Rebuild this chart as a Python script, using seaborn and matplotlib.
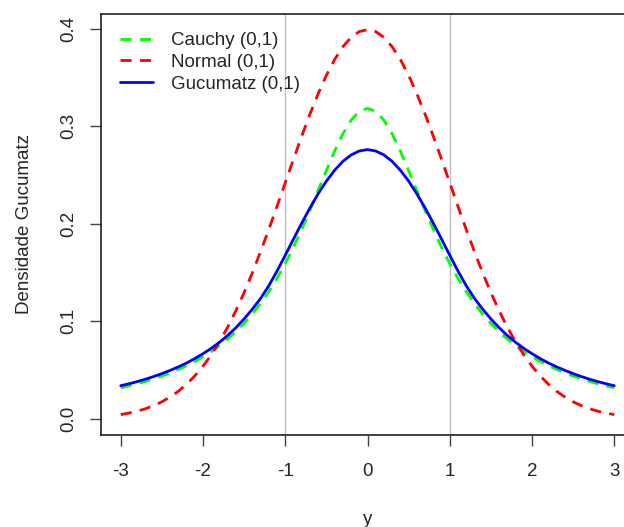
import numpy as np
import pandas as pd
import matplotlib
matplotlib.use("Agg")
import matplotlib.pyplot as plt
import seaborn as sns

# values, y from -3 to 3 in steps of 0.1
y_vals = [round(-3 + 0.1 * i, 1) for i in range(61)]

cauchy = [0.0318, 0.0338, 0.0360, 0.0384, 0.0410, 0.0439, 0.0471, 0.0506, 0.0545, 0.0588,
          0.0637, 0.0690, 0.0751, 0.0818, 0.0894, 0.0979, 0.1075, 0.1183, 0.1305, 0.1440,
          0.1592, 0.1759, 0.1941, 0.2136, 0.2341, 0.2546, 0.2744, 0.2920, 0.3061, 0.3152,
          0.3183,
          0.3152, 0.3061, 0.2920, 0.2744, 0.2546, 0.2341, 0.2136, 0.1941, 0.1759, 0.1592,
          0.1440, 0.1305, 0.1183, 0.1075, 0.0979, 0.0894, 0.0818, 0.0751, 0.0690, 0.0637,
          0.0588, 0.0545, 0.0506, 0.0471, 0.0439, 0.0410, 0.0384, 0.0360, 0.0338, 0.0318]

normal = [0.0044, 0.0060, 0.0079, 0.0104, 0.0136, 0.0175, 0.0224, 0.0283, 0.0355, 0.0440,
          0.0540, 0.0656, 0.0790, 0.0940, 0.1109, 0.1295, 0.1497, 0.1714, 0.1942, 0.2179,
          0.2420, 0.2661, 0.2897, 0.3123, 0.3332, 0.3521, 0.3683, 0.3814, 0.3910, 0.3970,
          0.3989,
          0.3970, 0.3910, 0.3814, 0.3683, 0.3521, 0.3332, 0.3123, 0.2897, 0.2661, 0.2420,
          0.2179, 0.1942, 0.1714, 0.1497, 0.1295, 0.1109, 0.0940, 0.0790, 0.0656, 0.0540,
          0.0440, 0.0355, 0.0283, 0.0224, 0.0175, 0.0136, 0.0104, 0.0079, 0.0060, 0.0044]

gucumatz = [0.0340, 0.0360, 0.0382, 0.0407, 0.0434, 0.0464, 0.0497, 0.0533, 0.0573, 0.0618,
            0.0668, 0.0723, 0.0785, 0.0855, 0.0935, 0.1025, 0.1125, 0.1235, 0.1365, 0.1515,
            0.1677, 0.1843, 0.2006, 0.2162, 0.2307, 0.2437, 0.2548, 0.2639, 0.2705, 0.2746,
            0.2760,
            0.2746, 0.2705, 0.2639, 0.2548, 0.2437, 0.2307, 0.2162, 0.2006, 0.1843, 0.1677,
            0.1515, 0.1365, 0.1235, 0.1125, 0.1025, 0.0935, 0.0855, 0.0785, 0.0723, 0.0668,
            0.0618, 0.0573, 0.0533, 0.0497, 0.0464, 0.0434, 0.0407, 0.0382, 0.0360, 0.0340]

x_ticks = [-3, -2, -1, 0, 1, 2, 3]
y_ticks = [0.0, 0.1, 0.2, 0.3, 0.4]
y_tick_labels = ["0.0", "0.1", "0.2", "0.3", "0.4"]
ref_lines = [-1, 1]

df = pd.DataFrame({"y": y_vals, "cauchy": cauchy, "normal": normal, "gucumatz": gucumatz})

sns.set_style("white")
plt.rcParams["font.family"] = ["Liberation Sans", "DejaVu Sans"]
fs = 13.5

fig = plt.figure(figsize=(6.24, 5.27), dpi=100)
ax = fig.add_axes([101 / 624, (527 - 434.5) / 527, (634 - 101) / 624, (434.5 - 14) / 527])

for v in ref_lines:
    ax.axvline(v, color="#BEBEBE", lw=1, zorder=0)

sns.lineplot(data=df, x="y", y="cauchy", ax=ax, color="#00FF00", lw=2,
             label="Cauchy (0,1)")
sns.lineplot(data=df, x="y", y="normal", ax=ax, color="#FF0000", lw=2,
             label="Normal (0,1)")
sns.lineplot(data=df, x="y", y="gucumatz", ax=ax, color="#0000FF", lw=2,
             label="Gucumatz (0,1)")
ax.lines[-3].set_dashes((4, 3))
ax.lines[-2].set_dashes((4, 3))

ax.set_xlim(-3.24, 3.24)
ax.set_ylim(-0.016, 0.415)
ax.set_xticks(x_ticks)
ax.set_xticklabels([str(t) for t in x_ticks], fontsize=fs)
ax.set_yticks(y_ticks)
ax.set_yticklabels(y_tick_labels, fontsize=fs, rotation=90, va="center")
ax.tick_params(direction="out", length=8, width=1, color="#444444", bottom=True, left=True)
ax.tick_params(axis="x", pad=12.5)
ax.tick_params(axis="y", pad=9)

for s in ["left", "bottom", "top"]:
    ax.spines[s].set_color("#222222")
    ax.spines[s].set_linewidth(1.2)
ax.spines["right"].set_visible(False)

ax.set_xlabel("y", fontsize=fs, labelpad=22)
ax.set_ylabel("Densidade Gucumatz", fontsize=fs, labelpad=20)

leg = ax.legend(loc="upper left", bbox_to_anchor=(120 / 624, 1 - 32 / 527),
                bbox_transform=fig.transFigure, frameon=False, fontsize=fs,
                handlelength=1.76, handletextpad=0.96, labelspacing=0.25,
                borderpad=0, borderaxespad=0)
for h in leg.get_lines()[:2]:
    h.set_dashes((4, 3))

fig.savefig("out.png", dpi=100)
